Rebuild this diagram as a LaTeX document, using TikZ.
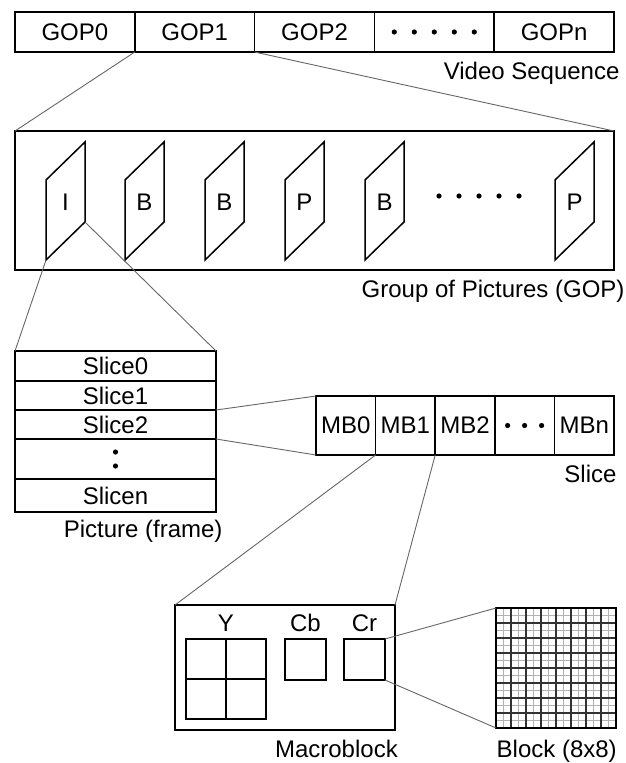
\documentclass[tikz,border=0pt]{standalone}
\usepackage{fontspec}
\setmainfont{Liberation Sans}
\usetikzlibrary{positioning}

\begin{document}
\begin{tikzpicture}[x=1pt,y=-1pt,
    font=\fontsize{24}{28}\selectfont,
    cell/.style={draw,line width=1.6pt,inner sep=0pt,outer sep=0pt},
    gopcell/.style={cell,minimum width=119.8pt,minimum height=40pt},
    slicecell/.style={cell,minimum width=201pt},
    mbcell/.style={cell,minimum width=59.6pt,minimum height=59pt},
    zoomline/.style={line width=0.9pt,black!60},
    caption/.style={anchor=north east},
    frame/.style={line width=1.5pt}]
  \useasboundingbox (0,0) rectangle (626,763);

  %% Video sequence
  \node[gopcell] (g0) at (74.9,32) {GOP0};
  \node[gopcell,right=0pt of g0] (g1) {GOP1};
  \node[gopcell,right=0pt of g1] (g2) {GOP2};
  \node[gopcell,right=0pt of g2] (gd) {};
  \node[gopcell,right=0pt of gd] (gn) {GOPn};
  \foreach \d in {-40,-20,0,20,40}
    \fill ([xshift=\d pt]gd.center) circle (2.6);
  \node[caption,xshift=9pt,yshift=-6.5pt] (vs) at (gn.south east) {Video Sequence};

  %% Group of pictures
  \node[cell,minimum width=599pt,minimum height=139pt] (gop) at (314.5,200.5) {};
  \foreach \x/\t/\n in {46/I/1,125/B/2,205/B/3,285/P/4,365/B/5,555/P/6} {
    \draw[frame] (\x,260) coordinate (f\n bl) -- ++(0,-80) -- ++(39,-38)
      -- ++(0,80) coordinate (f\n br) -- cycle;
    \node (f\n) at (\x+19.5,202) {\t};
  }
  \coordinate (fd) at (479,196);
  \foreach \d in {-40,-20,0,20,40}
    \fill ([xshift=\d pt]fd) circle (2.6);
  \node[caption,xshift=14pt,yshift=-7pt] (gopl) at (gop.south east) {Group of Pictures (GOP)};
  \draw[zoomline] (g1.south west) -- (gop.north west);
  \draw[zoomline] (g1.south east) -- (gop.north east);

  %% Picture (frame)
  \node[slicecell,minimum height=30pt] (s0) at (115.5,366) {Slice0};
  \node[slicecell,minimum height=29pt,below=0pt of s0] (s1) {Slice1};
  \node[slicecell,minimum height=29pt,below=0pt of s1] (s2) {Slice2};
  \node[slicecell,minimum height=40pt,below=0pt of s2] (sd) {};
  \node[slicecell,minimum height=33pt,below=0pt of sd] (sn) {Slicen};
  \foreach \d in {-7,7}
    \fill ([yshift=-\d pt]sd.center) circle (2.6);
  \node[caption,xshift=10pt,yshift=-5pt] (picl) at (sn.south east) {Picture (frame)};
  \draw[zoomline] (f1bl) -- (s0.north west);
  \draw[zoomline] (f1br) -- (s0.north east);

  %% Slice
  \node[mbcell] (m0) at (345.8,425.5) {MB0};
  \node[mbcell,right=0pt of m0] (m1) {MB1};
  \node[mbcell,right=0pt of m1] (m2) {MB2};
  \node[mbcell,right=0pt of m2] (md) {};
  \node[mbcell,right=0pt of md] (mn) {MBn};
  \foreach \d in {-17,0,17}
    \fill ([xshift=\d pt]md.center) circle (2.6);
  \node[caption,xshift=6pt,yshift=-6.5pt] (slicel) at (mn.south east) {Slice};
  \draw[zoomline] (s2.north east) -- (m0.north west);
  \draw[zoomline] (s2.south east) -- (m0.south west);

  %% Macroblock
  \node[cell,minimum width=220pt,minimum height=125pt] (mbk) at (285,667.5) {};
  \node[cell,minimum size=40pt] (y1) at (206,659) {};
  \node[cell,minimum size=40pt,right=0pt of y1] (y2) {};
  \node[cell,minimum size=40pt,below=0pt of y1] (y3) {};
  \node[cell,minimum size=40pt,right=0pt of y3] (y4) {};
  \node[cell,minimum size=41pt] (cb) at (305.5,659.5) {};
  \node[cell,minimum size=41pt] (cr) at (364.5,659.5) {};
  \node[above=3.5pt of y1.north east] (yl) {Y};
  \node[above=3.5pt of cb] (cbl) {Cb};
  \node[above=3.5pt of cr] (crl) {Cr};
  \node[caption,xshift=6.3pt,yshift=-6.5pt] (mbkl) at (mbk.south east) {Macroblock};
  \draw[zoomline] (m1.south west) -- (mbk.north west);
  \draw[zoomline] (m2.south west) -- (mbk.north east);

  %% Block (8x8)
  \foreach \k in {1,3,...,15} {
    \draw[black!30,line width=0.9pt] (496+\k*7.5,608) -- (496+\k*7.5,728);
    \draw[black!30,line width=0.9pt] (496,608+\k*7.5) -- (616,608+\k*7.5);
  }
  \foreach \k in {1,...,7} {
    \draw[black!80,line width=1.1pt] (496+\k*15,608) -- (496+\k*15,728);
    \draw[black!80,line width=1.1pt] (496,608+\k*15) -- (616,608+\k*15);
  }
  \node[cell,minimum width=120pt,minimum height=120pt] (blk) at (556,668) {};
  \node[caption,xshift=4.3pt,yshift=-8.2pt] (blkl) at (blk.south east) {Block (8x8)};
  \draw[zoomline] (cr.north east) -- (blk.north west);
  \draw[zoomline] (cr.south east) -- (blk.south west);
\end{tikzpicture}
\end{document}
